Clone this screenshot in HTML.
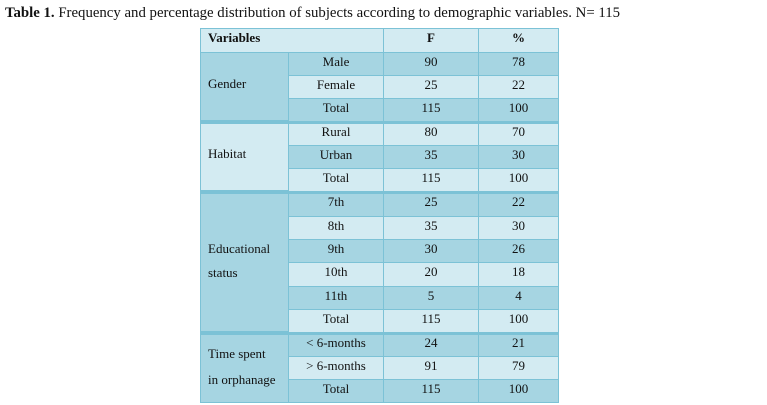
<!DOCTYPE html>
<html><head><style>
body{margin:0;width:767px;height:405px;background:#fff;position:relative;overflow:hidden;font-family:"Liberation Serif",serif;color:#111}
.t{position:absolute;left:5px;top:5px;font-size:14.8px;white-space:nowrap}
.c{position:absolute;box-sizing:border-box;border:1px solid #7cc2d6;font-size:13px;line-height:18px;text-align:center;white-space:nowrap}
.d{background:#a6d5e2}.l{background:#d3ebf2}
.lf{text-align:left;padding-left:7px}
</style></head><body>
<div class="t"><b>Table 1.</b> Frequency and percentage distribution of subjects according to demographic variables. N= 115</div>
<div id="tb"></div>
<script>
var rb=[28,52,75,98,122,145,168,192,216,239,262,286,309,333,356,379,402];
var h='';
function cell(x1,x2,y1,y2,cls,txt,extra){h+='<div class="c '+cls+'" style="left:'+x1+'px;top:'+y1+'px;width:'+(x2-x1+1)+'px;height:'+(y2-y1+1)+'px;'+(extra||'')+'">'+txt+'</div>';}
cell(200,383,28,52,'l lf','<b>Variables</b>','line-height:18px');
cell(383,478,28,52,'l','<b>F</b>');cell(478,558,28,52,'l','<b>%</b>');
var rows=[['Male',90,78,'d'],['Female',25,22,'l'],['Total',115,100,'d'],['Rural',80,70,'l'],['Urban',35,30,'d'],['Total',115,100,'l'],['7th',25,22,'d'],['8th',35,30,'l'],['9th',30,26,'d'],['10th',20,18,'l'],['11th',5,4,'d'],['Total',115,100,'l'],['&lt; 6-months',24,21,'d'],['&gt; 6-months',91,79,'l'],['Total',115,100,'d']];
rows.forEach(function(r,i){var y1=rb[i+1],y2=rb[i+2];
cell(288,383,y1,y2,r[3],r[0]);cell(383,478,y1,y2,r[3],r[1]);cell(478,558,y1,y2,r[3],r[2]);});
cell(200,288,52,122,'d lf','Gender','line-height:62px;border-bottom-width:3px');
cell(200,288,122,192,'l lf','Habitat','line-height:62px;border-bottom-width:3px');
cell(200,288,192,333,'d lf','<div style="position:absolute;top:44px;line-height:24px">Educational<br>status</div>','border-bottom-width:3px');
cell(200,288,333,402,'d lf','<div style="position:absolute;top:7px;line-height:26px">Time spent<br>in orphanage</div>');
[122,192,333].forEach(function(y){h+='<div style="position:absolute;left:200px;top:'+(y-1)+'px;width:359px;height:3px;background:#7cc2d6"></div>';});
document.getElementById('tb').innerHTML=h;
</script>
</body></html>
